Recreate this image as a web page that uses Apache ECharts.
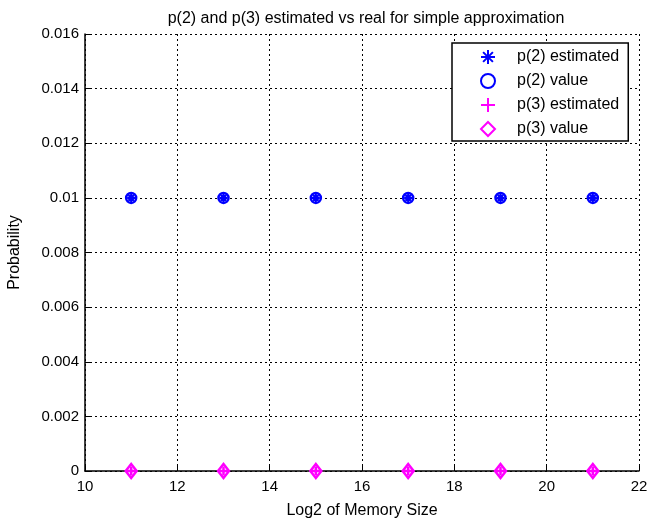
<!DOCTYPE html>
<html><head><meta charset="utf-8">
<script src="https://cdn.jsdelivr.net/npm/echarts@6/dist/echarts.min.js"></script>
<style>html,body{margin:0;padding:0;background:#fff}#c{width:648px;height:523px}</style>
</head><body><div id="c"></div>
<script>
const memLog2 = [11, 13, 15, 17, 19, 21];
const p2Estimated = [0.01, 0.01, 0.01, 0.01, 0.01, 0.01];
const p2Value = [0.01, 0.01, 0.01, 0.01, 0.01, 0.01];
const p3Estimated = [0, 0, 0, 0, 0, 0];
const p3Value = [0, 0, 0, 0, 0, 0];
const seriesNames = ['p(2) estimated', 'p(2) value', 'p(3) estimated', 'p(3) value'];

const pairs = (xs, ys) => xs.map((x, i) => [x, ys[i]]);
const FONT = 'Liberation Sans';
const asterisk = 'path://M5,0L5,10M0,5L10,5M1.5,1.5L8.5,8.5M8.5,1.5L1.5,8.5';
const plus = 'path://M5,0L5,10M0,5L10,5';

const chart = echarts.init(document.getElementById('c'), null, {renderer: 'canvas'});
const dotted = {type: [2, 3], color: '#000', width: 1};
chart.setOption({
  animation: false,
  backgroundColor: '#fff',
  title: {
    text: 'p(2) and p(3) estimated vs real for simple approximation',
    left: 361, top: 6, textAlign: 'center',
    textStyle: {fontFamily: FONT, fontSize: 16, fontWeight: 'normal', color: '#000'}
  },
  grid: {left: 85, right: 9, top: 34, bottom: 52, containLabel: false, outerBoundsMode: 'none'},
  legend: {
    orient: 'vertical', left: 452, top: 43,
    data: seriesNames,
    backgroundColor: '#fff', borderColor: '#000', borderWidth: 1.5,
    padding: [6, 9, 4, 28], itemGap: 8, itemWidth: 14, itemHeight: 14,
    textStyle: {fontFamily: FONT, fontSize: 16, color: '#000', padding: [0, 0, 0, 17]}
  },
  xAxis: {
    type: 'value', min: 10, max: 22, interval: 2,
    name: 'Log2 of Memory Size', nameLocation: 'middle', nameGap: 32,
    nameTextStyle: {fontFamily: FONT, fontSize: 16, color: '#000'},
    axisLine: {lineStyle: {color: '#000', width: 1.5}},
    axisTick: {inside: true, length: 5, lineStyle: {color: '#000'}},
    axisLabel: {fontFamily: FONT, fontSize: 15, color: '#000', margin: 8},
    splitLine: {show: true, lineStyle: dotted}
  },
  yAxis: {
    type: 'value', min: 0, max: 0.016, interval: 0.002,
    name: 'Probability', nameLocation: 'middle', nameGap: 62,
    nameTextStyle: {fontFamily: FONT, fontSize: 16, color: '#000'},
    axisLine: {show: true, lineStyle: {color: '#000', width: 1.5}},
    axisTick: {show: true, inside: true, length: 5, lineStyle: {color: '#000'}},
    axisLabel: {fontFamily: FONT, fontSize: 15, color: '#000', margin: 6},
    splitLine: {show: true, lineStyle: dotted}
  },
  series: [
    {name: seriesNames[0], type: 'scatter', data: pairs(memLog2, p2Estimated),
     symbol: asterisk, symbolSize: 8, z: 3,
     itemStyle: {opacity: 1, color: '#0000ff', borderColor: '#0000ff', borderWidth: 2}},
    {name: seriesNames[1], type: 'scatter', data: pairs(memLog2, p2Value),
     symbol: 'circle', symbolSize: 10, z: 2,
     itemStyle: {opacity: 1, color: 'rgba(0,0,0,0)', borderColor: '#0000ff', borderWidth: 2.5}},
    {name: seriesNames[2], type: 'scatter', data: pairs(memLog2, p3Estimated),
     symbol: plus, symbolSize: 9, z: 3,
     itemStyle: {opacity: 1, color: '#ff00ff', borderColor: '#ff00ff', borderWidth: 2.5}},
    {name: seriesNames[3], type: 'scatter', data: pairs(memLog2, p3Value),
     symbol: 'diamond', symbolSize: [11, 14], z: 2,
     itemStyle: {opacity: 1, color: 'rgba(0,0,0,0)', borderColor: '#ff00ff', borderWidth: 2.5}}
  ]
});
</script></body></html>
